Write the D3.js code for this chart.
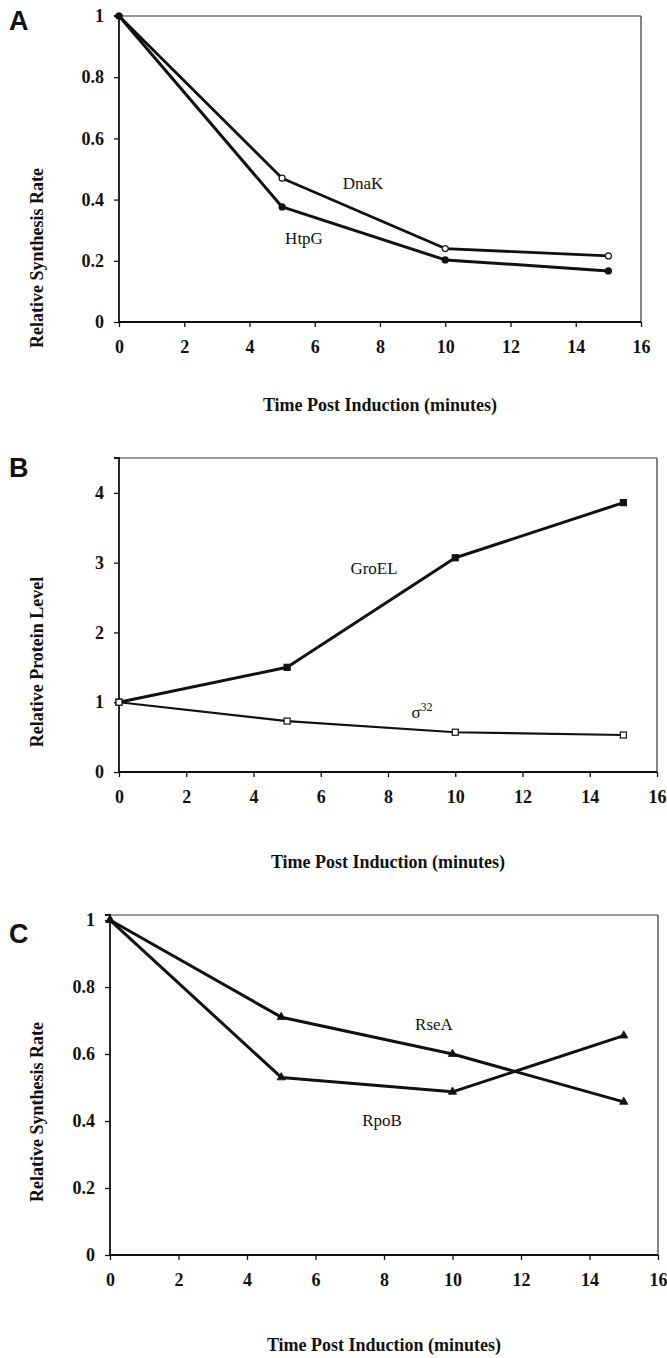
<!DOCTYPE html>
<html>
<head>
<meta charset="utf-8">
<script src="https://cdn.jsdelivr.net/npm/d3@7"></script>
<style>
  html, body { margin: 0; padding: 0; background: #fff; }
  svg { display: block; }
  .tick text { font-family: "Liberation Serif", "Times New Roman", serif; font-weight: bold; font-size: 18px; fill: #111; }
</style>
</head>
<body>
<svg id="chart" width="667" height="1358"></svg>
<script>
// ---------- DATA ----------
const timePoints = [0, 5, 10, 15];
const xTicks = [0, 2, 4, 6, 8, 10, 12, 14, 16];

// Panel A: Relative synthesis rate
const dnaK = [1.0, 0.47, 0.24, 0.216];
const htpG = [1.0, 0.376, 0.203, 0.167];
const yTicksA = [0, 0.2, 0.4, 0.6, 0.8, 1];

// Panel B: Relative protein level
const groEL = [1.0, 1.5, 3.07, 3.86];
const sigma32 = [1.0, 0.73, 0.57, 0.53];
const yTicksB = [0, 1, 2, 3, 4];

// Panel C: Relative synthesis rate
const rseA = [1.0, 0.71, 0.60, 0.457];
const rpoB = [1.0, 0.53, 0.487, 0.655];
const yTicksC = [0, 0.2, 0.4, 0.6, 0.8, 1];

const xTitle = "Time Post Induction (minutes)";

// ---------- LAYOUT ----------
const panels = [
  { letter: "A", left: 119, right: 641, top: 16, bottom: 322, yMax: 1.0, yTicks: yTicksA,
    yTitle: "Relative Synthesis Rate", yTitleY: 258, xTitleY: 405, letterY: 30,
    series: [
      { name: "DnaK", values: dnaK, marker: "circle", fill: "#fff", width: 2.8, lx: 363, ly: 189 },
      { name: "HtpG", values: htpG, marker: "circle", fill: "#111", width: 3, lx: 304, ly: 244 }
    ] },
  { letter: "B", left: 119, right: 657, top: 458, bottom: 772, yMax: 4.5, yTicks: yTicksB,
    yTitle: "Relative Protein Level", yTitleY: 662, xTitleY: 862, letterY: 477,
    series: [
      { name: "GroEL", values: groEL, marker: "square", fill: "#111", width: 3, lx: 374, ly: 574 },
      { name: "sigma", values: sigma32, marker: "square", fill: "#fff", width: 2.2, lx: 422, ly: 718 }
    ] },
  { letter: "C", left: 110, right: 658, top: 915, bottom: 1255, yMax: 1.015, yTicks: yTicksC,
    yTitle: "Relative Synthesis Rate", yTitleY: 1112, xTitleY: 1345, letterY: 943,
    series: [
      { name: "RseA", values: rseA, marker: "triangle", fill: "#111", width: 3, lx: 434, ly: 1030 },
      { name: "RpoB", values: rpoB, marker: "triangle", fill: "#111", width: 3, lx: 382, ly: 1126 }
    ] }
];

const svg = d3.select("#chart");
const serif = '"Liberation Serif", "Times New Roman", serif';

panels.forEach(p => {
  const x = d3.scaleLinear().domain([0, 16]).range([p.left, p.right]);
  const y = d3.scaleLinear().domain([0, p.yMax]).range([p.bottom, p.top]);
  const g = svg.append("g");

  // frame (top & right thin)
  g.append("line").attr("x1", p.left).attr("x2", p.right).attr("y1", p.top).attr("y2", p.top)
    .attr("stroke", "#333").attr("stroke-width", 1.2);
  g.append("line").attr("x1", p.right).attr("x2", p.right).attr("y1", p.top).attr("y2", p.bottom)
    .attr("stroke", "#333").attr("stroke-width", 1.2);

  // axes
  const xAxis = d3.axisBottom(x).tickValues(xTicks).tickSize(5).tickPadding(11).tickFormat(d => String(d));
  const yAxis = d3.axisLeft(y).tickValues(p.yTicks).tickSize(5).tickPadding(10).tickFormat(d => String(d));
  const gx = g.append("g").attr("transform", `translate(0,${p.bottom})`).call(xAxis);
  const gy = g.append("g").attr("transform", `translate(${p.left},0)`).call(yAxis);
  [gx, gy].forEach(a => {
    a.select(".domain").attr("stroke", "#111").attr("stroke-width", 1.8);
    a.selectAll(".tick line").attr("stroke", "#111").attr("stroke-width", 1.3);
  });
  gy.select(".domain").attr("d", `M${-5},${y(p.yMax)}H0V${p.bottom}`);
  gx.select(".domain").attr("d", `M${p.left},0H${p.right}`);
  gx.selectAll(".tick text").attr("dy", "0.85em");

  // lines and markers
  const line = d3.line().x((d, i) => x(timePoints[i])).y(d => y(d));
  p.series.forEach(s => {
    g.append("path").datum(s.values).attr("d", line)
      .attr("fill", "none").attr("stroke", "#111").attr("stroke-width", s.width)
      .attr("stroke-linejoin", "round");
    const mk = g.selectAll(null).data(s.values).enter();
    if (s.marker === "circle") {
      mk.append("circle").attr("cx", (d, i) => x(timePoints[i])).attr("cy", d => y(d))
        .attr("r", 3).attr("fill", s.fill).attr("stroke", "#111").attr("stroke-width", 1.2);
    } else if (s.marker === "square") {
      mk.append("rect").attr("x", (d, i) => x(timePoints[i]) - 3).attr("y", d => y(d) - 3)
        .attr("width", 6).attr("height", 6).attr("fill", s.fill).attr("stroke", "#111").attr("stroke-width", 1.2);
    } else {
      const tri = d3.symbol().type(d3.symbolTriangle).size(30);
      mk.append("path").attr("d", tri)
        .attr("transform", (d, i) => `translate(${x(timePoints[i])},${y(d)})`)
        .attr("fill", s.fill).attr("stroke", "#111").attr("stroke-width", 0.8);
    }
    // label
    const t = g.append("text").attr("x", s.lx).attr("y", s.ly)
      .attr("text-anchor", "middle").attr("font-family", serif).attr("font-size", 17).attr("fill", "#111");
    if (s.name === "sigma") {
      t.append("tspan").text("σ");
      t.append("tspan").attr("dy", -7).attr("font-size", 12).text("32");
    } else {
      t.text(s.name);
    }
  });

  // axis titles
  g.append("text").attr("x", (p.left + p.right) / 2).attr("y", p.xTitleY + 6)
    .attr("text-anchor", "middle").attr("font-family", serif).attr("font-weight", "bold")
    .attr("font-size", 18).attr("fill", "#111").text(xTitle);
  g.append("text").attr("transform", `translate(43,${p.yTitleY}) rotate(-90)`)
    .attr("text-anchor", "middle").attr("font-family", serif).attr("font-weight", "bold")
    .attr("font-size", 18).attr("fill", "#111").text(p.yTitle);

  // panel letter
  g.append("text").attr("x", 9).attr("y", p.letterY)
    .attr("font-family", '"Liberation Sans", Arial, sans-serif').attr("font-weight", "bold")
    .attr("font-size", 27).attr("fill", "#111").text(p.letter);
});
</script>
</body>
</html>
